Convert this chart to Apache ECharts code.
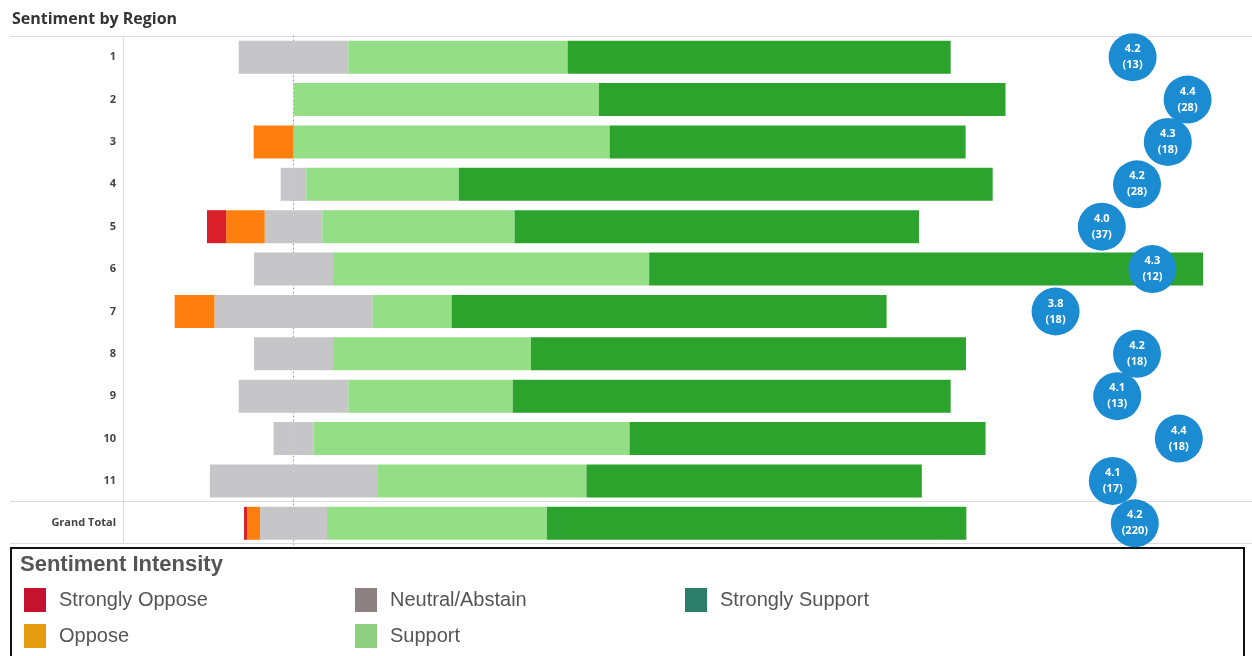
<!DOCTYPE html>
<html>
<head>
<meta charset="utf-8">
<script src="https://cdn.jsdelivr.net/npm/echarts@6/dist/echarts.min.js"></script>
<style>
html,body{margin:0;padding:0;background:#fff;}
#chart{width:1252px;height:656px;}
</style>
</head>
<body>
<div id="chart"></div>
<script>
// ---- data (percent of responses per region) ----
const categories = ['1','2','3','4','5','6','7','8','9','10','11','Grand Total'];
const stronglyOppose  = [0, 0, 0, 0, 2.7, 0, 0, 0, 0, 0, 0, 0.45];
const oppose          = [0, 0, 5.6, 0, 5.4, 0, 5.6, 0, 0, 0, 0, 1.8];
const neutral         = [15.4, 0, 0, 3.6, 8.1, 11.1, 22.2, 11.1, 15.4, 5.6, 23.5, 9.4];
const support         = [30.8, 42.9, 44.4, 21.4, 27.0, 44.4, 11.1, 27.8, 23.1, 44.4, 29.4, 30.9];
const stronglySupport = [53.8, 57.1, 50.0, 75.0, 56.8, 77.8, 61.1, 61.1, 61.5, 50.0, 47.1, 58.9];
const avgScore  = [4.18, 4.43, 4.34, 4.20, 4.04, 4.27, 3.83, 4.20, 4.11, 4.39, 4.09, 4.19];
const responses = [13, 28, 18, 28, 37, 12, 18, 18, 13, 18, 17, 220];
const legendNames = ['Strongly Oppose','Oppose','Neutral/Abstain','Support','Strongly Support'];

const barColors = {
  'Strongly Oppose':'#d9202a', 'Oppose':'#ff7f0e', 'Neutral/Abstain':'#c6c6c8',
  'Support':'#94de86', 'Strongly Support':'#2ca32c'
};
const legendColors = {
  'Strongly Oppose':'#c4122f', 'Oppose':'#e59c0e', 'Neutral/Abstain':'#8c8080',
  'Support':'#8fcf80', 'Strongly Support':'#2b7f69'
};

const chart = echarts.init(document.getElementById('chart'), null, {renderer:'canvas'});

function barSeries(name, data, sign) {
  return {
    type:'bar', name: name, stack:'s', barWidth:33,
    xAxisIndex:0, yAxisIndex:0,
    itemStyle:{color: barColors[name]},
    emphasis:{disabled:true},
    z:3,
    data: data.map(v => sign * v)
  };
}

const scoreMin = -0.4045, scoreMax = 4.6909;
const legendText = {fontSize:20, color:'#555', fontFamily:"'Liberation Sans Narrow','Liberation Sans',Arial,sans-serif", padding:[0,0,0,8]};
function mkLegend(left, names) {
  return {
    orient:'vertical', left:left, top:588, padding:0,
    itemWidth:22, itemHeight:24, itemGap:12, icon:'rect',
    selectedMode:false,
    textStyle: legendText,
    data: names.map(n => ({name:n, itemStyle:{color: legendColors[n]}}))
  };
}

const option = {
  animation:false,
  backgroundColor:'#fff',
  title:{
    text:'Sentiment by Region', left:7, top:6,
    textStyle:{fontSize:16, fontWeight:'bold', color:'#333', fontFamily:"'Open Sans',sans-serif"}
  },
  legend:[
    mkLegend(24, [legendNames[0], legendNames[1]]),
    mkLegend(355, [legendNames[2], legendNames[3]]),
    mkLegend(685, [legendNames[4]])
  ],
  grid:{left:124, right:7, top:36, height:508.5},
  xAxis:[
    {type:'value', min:-23.81, max:133.64, show:false},
    {type:'value', min:scoreMin, max:scoreMax, show:false}
  ],
  yAxis:[
    {type:'category', data:categories, inverse:true,
     axisLine:{show:false}, axisTick:{show:false}, splitLine:{show:false},
     axisLabel:{margin:8, fontSize:11, fontWeight:'bold', color:'#444', fontFamily:"'Open Sans',sans-serif"}},
    {type:'category', data:categories, inverse:true, position:'left',
     axisLine:{show:true, onZero:true, onZeroAxisIndex:0, lineStyle:{color:'#9a9a9a', type:[1,3], width:1}},
     axisTick:{show:false}, axisLabel:{show:false}, splitLine:{show:false}}
  ],
  series:[
    barSeries('Neutral/Abstain', neutral.map(v => v/2), -1),
    barSeries('Oppose', oppose, -1),
    barSeries('Strongly Oppose', stronglyOppose, -1),
    barSeries('Neutral/Abstain', neutral.map(v => v/2), 1),
    barSeries('Support', support, 1),
    barSeries('Strongly Support', stronglySupport, 1),
    {
      type:'scatter', name:'Average', xAxisIndex:1, yAxisIndex:0,
      symbolSize:48, z:5,
      itemStyle:{color:'#1b8bd2', opacity:1},
      emphasis:{disabled:true},
      label:{show:true, position:'inside', color:'#fff', fontSize:11, fontWeight:'bold',
        lineHeight:16, fontFamily:"'Open Sans',sans-serif",
        formatter: p => p.value[0].toFixed(1) + '\n(' + p.data.n + ')'},
      data: categories.map((c,i) => ({value:[avgScore[i], c], n: responses[i]}))
    }
  ],
  graphic:[
    {type:'line', shape:{x1:10, y1:36.5, x2:1252, y2:36.5}, style:{stroke:'#dcdcdc', lineWidth:1}, silent:true},
    {type:'line', shape:{x1:10, y1:501.5, x2:1252, y2:501.5}, style:{stroke:'#dcdcdc', lineWidth:1}, silent:true},
    {type:'line', shape:{x1:10, y1:543.5, x2:1252, y2:543.5}, style:{stroke:'#dcdcdc', lineWidth:1}, silent:true},
    {type:'line', shape:{x1:123.5, y1:36, x2:123.5, y2:544}, style:{stroke:'#dcdcdc', lineWidth:1}, silent:true},
    {type:'rect', shape:{x:11, y:548, width:1233, height:120}, style:{fill:'none', stroke:'#111', lineWidth:2}, silent:true},
    {type:'text', left:20, top:554, silent:true,
     style:{text:'Sentiment Intensity', fill:'#555',
       font:"bold 22px 'Liberation Sans Narrow','Liberation Sans',Arial,sans-serif"}}
  ]
};
chart.setOption(option);
</script>
</body>
</html>
